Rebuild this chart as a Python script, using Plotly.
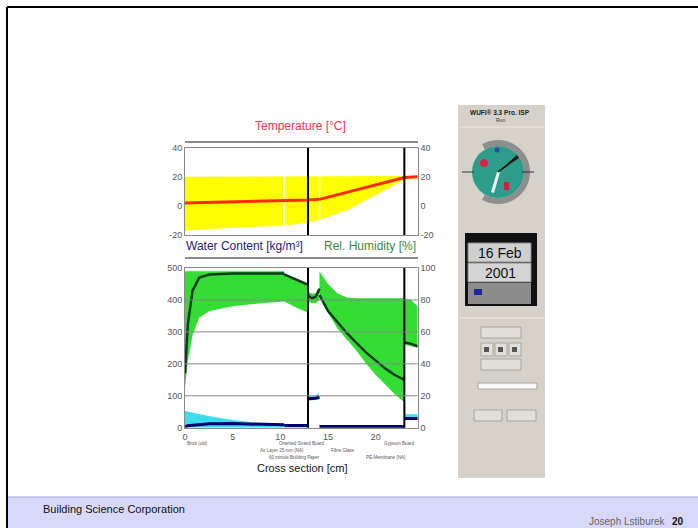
import numpy as np
import plotly.graph_objects as go

W, H = 698, 528
FONT = "Arial, Liberation Sans, sans-serif"

# wall build-up, positions in cm
x_max = 24.4
x_ticks = [0, 5, 10, 15, 20]
membranes = [12.9, 23.0]      # building paper, PE membrane
joints = [10.4, 14.1]         # seams between layers

# temperature [°C]
temp_x = [0, 5, 10.4, 12.9, 14.1, 17, 20, 23.0, 24.4]
temp_min = [-17, -15, -13.5, -11.5, -9.5, -3, 7.5, 18, 19]
temp_max = [20, 20, 20, 20, 20, 20, 20, 20.5, 20.5]
temp_now = [2.0, 2.6, 3.2, 4.0, 4.5, 9.5, 14.5, 19.5, 20]

# relative humidity [%] and water content [kg/m3], same x grid
rh_x = [0, 0.3, 0.8, 1.5, 2.6, 5, 8, 10.4,
        10.4, 11.6, 12.9,
        12.9, 13.3, 13.7, 14.1,
        14.1, 15, 16, 17, 18, 19, 20, 21, 22, 23.0,
        23.0, 23.7, 24.4]
rh_max = [98, 98, 98, 98, 98, 98, 98, 98,
          96.5, 93.5, 90,
          85, 84, 84, 88,
          98, 90, 84, 81.5, 81, 81, 81, 81, 81, 81,
          81, 80, 76]
rh_min = [25, 42, 58, 69, 73, 76, 78, 79,
          79, 75.5, 72,
          79, 78, 78, 80,
          84, 72, 62, 55, 48, 40, 33, 27, 21, 16,
          52, 51, 50]
rh_now = [34, 65, 86, 94, 96, 96.5, 96.5, 96.5,
          96, 93, 89.5,
          83, 81, 82, 87,
          83, 73, 66, 59, 53, 47, 42, 37, 33, 30,
          53.5, 52.5, 51]
wc_max = [52, 50, 47, 43, 36, 24, 14, 9,
          6, 6, 6,
          100, 98, 100, 112,
          5, 5, 5, 5, 5, 5, 5, 5, 5, 5,
          42, 42, 42]
wc_min = [0, 0, 0, 0, 0, 0, 0, 0,
          0, 0, 0,
          84, 85, 86, 88,
          0, 0, 0, 0, 0, 0, 0, 0, 0, 0,
          24, 24, 24]
wc_now = [3, 6, 8, 10, 12, 13, 11, 9,
          7, 7, 7,
          91, 91, 92, 96,
          4, 4, 4, 4, 4, 4, 4, 4, 4, 4,
          29, 29, 29]

# boundary conditions (exterior, interior)
bc_temp = [2.2, 20.5]
bc_rh = [37, 49]
bc_x = [-3.6, 27.3]

# monitor markers on the layer bars
temp_mon = [9.95, 12.3, 13.5, 22.4, 23.8]
wc_mon = [-1.2, 11.0, 13.3, 14.1, 22.6, 25.1]
wc_mon_sym = ["triangle-left", "triangle-right", "square", "square", "triangle-left", "triangle-right"]


def X(p):
    return p / W


def Y(p):
    return 1 - p / H


def split_layers(xs, ys):
    # break the line where a new layer starts (repeated x)
    ox, oy = [xs[0]], [ys[0]]
    for i in range(1, len(xs)):
        if xs[i] == xs[i - 1]:
            ox.append(None)
            oy.append(None)
        ox.append(xs[i])
        oy.append(ys[i])
    return ox, oy


shapes = []
annotations = []


def box(x0, y0, x1, y1, fill, line=None, lw=1):
    shapes.append(dict(type="rect", xref="paper", yref="paper",
                       x0=X(x0), x1=X(x1), y0=Y(y1), y1=Y(y0),
                       fillcolor=fill, layer="above",
                       line=dict(color=line if line else fill, width=lw if line else 0)))


def seg(x0, y0, x1, y1, color, lw=1):
    shapes.append(dict(type="line", xref="paper", yref="paper",
                       x0=X(x0), x1=X(x1), y0=Y(y0), y1=Y(y1), layer="above",
                       line=dict(color=color, width=lw)))


def poly(pts, fill):
    d = "M " + " L ".join(f"{X(a):.5f},{Y(b):.5f}" for a, b in pts) + " Z"
    shapes.append(dict(type="path", xref="paper", yref="paper", path=d,
                       fillcolor=fill, line=dict(width=0), layer="above"))


def circle(cx, cy, r, fill):
    shapes.append(dict(type="circle", xref="paper", yref="paper",
                       x0=X(cx - r), x1=X(cx + r), y0=Y(cy + r), y1=Y(cy - r),
                       fillcolor=fill, line=dict(width=0), layer="above"))


def text(x, y, s, size, color="#222", anchor="center"):
    annotations.append(dict(x=X(x), y=Y(y), xref="paper", yref="paper", text=s,
                            showarrow=False, xanchor=anchor, yanchor="middle", borderpad=0,
                            font=dict(size=size, color=color, family=FONT)))


fig = go.Figure()
hid = dict(showlegend=False, hoverinfo="skip")

# ---- temperature panel
fig.add_trace(go.Scatter(x=temp_x, y=temp_max, mode="lines", line=dict(width=0), xaxis="x", yaxis="y", **hid))
fig.add_trace(go.Scatter(x=temp_x, y=temp_min, mode="lines", line=dict(width=0), fill="tonexty",
                         fillcolor="#ffff00", xaxis="x", yaxis="y", **hid))
for j in joints:
    fig.add_trace(go.Scatter(x=[j, j], y=[-20, 40], mode="lines", line=dict(color="white", width=1.5),
                             xaxis="x", yaxis="y", **hid))
fig.add_trace(go.Scatter(x=temp_x, y=temp_now, mode="lines", line=dict(color="#ff2a00", width=3),
                         xaxis="x", yaxis="y", **hid))
fig.add_trace(go.Scatter(x=[bc_x[0]], y=[bc_temp[0]], mode="markers", cliponaxis=False,
                         marker=dict(symbol="triangle-right", size=9, color="#ff2020"),
                         xaxis="x", yaxis="y", **hid))
fig.add_trace(go.Scatter(x=[bc_x[1]], y=[bc_temp[1]], mode="markers", cliponaxis=False,
                         marker=dict(symbol="triangle-left", size=9, color="#ff2020"),
                         xaxis="x", yaxis="y2", **hid))
fig.add_trace(go.Scatter(x=[m + 0.45 for m in temp_mon], y=[47.4] * len(temp_mon), mode="markers",
                         cliponaxis=False,
                         marker=dict(symbol="square", size=7, color="#ffe000", line=dict(color="#f08000", width=1)),
                         xaxis="x", yaxis="y", **hid))
fig.add_trace(go.Scatter(x=temp_mon, y=[47.4] * len(temp_mon), mode="markers", cliponaxis=False,
                         marker=dict(symbol="triangle-left", size=8, color="#ffe000", line=dict(color="#f08000", width=1)),
                         xaxis="x", yaxis="y", **hid))

# ---- moisture panel
fig.add_trace(go.Scatter(x=rh_x, y=rh_max, mode="lines", line=dict(width=0), xaxis="x2", yaxis="y4", **hid))
fig.add_trace(go.Scatter(x=rh_x, y=rh_min, mode="lines", line=dict(width=0), fill="tonexty",
                         fillcolor="#33dd33", xaxis="x2", yaxis="y4", **hid))
fig.add_trace(go.Scatter(x=rh_x, y=wc_max, mode="lines", line=dict(width=0), xaxis="x2", yaxis="y3", **hid))
fig.add_trace(go.Scatter(x=rh_x, y=wc_min, mode="lines", line=dict(width=0), fill="tonexty",
                         fillcolor="#3fdcf0", xaxis="x2", yaxis="y3", **hid))
for j in joints:
    fig.add_trace(go.Scatter(x=[j, j], y=[0, 500], mode="lines", line=dict(color="white", width=1.5),
                             xaxis="x2", yaxis="y3", **hid))
lx, ly = split_layers(rh_x, rh_now)
fig.add_trace(go.Scatter(x=lx, y=ly, mode="lines", line=dict(color="#0b3a1c", width=2.5),
                         xaxis="x2", yaxis="y4", **hid))
lx, ly = split_layers(rh_x, wc_now)
fig.add_trace(go.Scatter(x=lx, y=ly, mode="lines", line=dict(color="#000070", width=3),
                         xaxis="x2", yaxis="y3", **hid))
fig.add_trace(go.Scatter(x=[bc_x[0]], y=[bc_rh[0]], mode="markers", cliponaxis=False,
                         marker=dict(symbol="triangle-right", size=9, color="#137a13"),
                         xaxis="x2", yaxis="y4", **hid))
fig.add_trace(go.Scatter(x=[bc_x[1]], y=[bc_rh[1]], mode="markers", cliponaxis=False,
                         marker=dict(symbol="triangle-left", size=9, color="#137a13"),
                         xaxis="x2", yaxis="y4", **hid))
fig.add_trace(go.Scatter(x=wc_mon, y=[106.3] * len(wc_mon), mode="markers", cliponaxis=False,
                         marker=dict(symbol=wc_mon_sym, size=9, color="#40d8f0", line=dict(color="#1890c0", width=1)),
                         xaxis="x2", yaxis="y4", **hid))

# layer boundaries (membranes) and gridlines
for m in membranes:
    shapes.append(dict(type="line", xref="x", yref="y domain", x0=m, x1=m, y0=0, y1=1,
                       line=dict(color="black", width=2), layer="above"))
    shapes.append(dict(type="line", xref="x2", yref="y3 domain", x0=m, x1=m, y0=0, y1=1,
                       line=dict(color="black", width=2), layer="above"))
for g in [100, 200, 300, 400]:
    shapes.append(dict(type="line", xref="x2 domain", yref="y3", x0=0, x1=1, y0=g, y1=g,
                       line=dict(color="#8a8a8a", width=1), layer="above"))

# layer bars above the panels
seg(185, 142, 418, 142, "#8a8a8a", 2)
seg(185, 258, 418, 258, "#8a8a8a", 2)

# slide frame and footer
seg(7, 7, 698, 7, "black", 2)
seg(7, 7, 7, 528, "black", 2)
box(8, 497, 698, 528, "#d8d8f8")
seg(8, 497, 698, 497, "#a0a0d4", 1)

# ---- WUFI control panel on the right
box(458, 105, 545, 478, "#d6d2ca")
seg(459, 127, 545, 127, "#ece9e3", 1)
seg(459, 318, 545, 318, "#ece9e3", 1)
text(500, 112, "<b>WUFI® 3.3 Pro. ISP</b>", 6.5, "#222")
text(500, 120, "Run", 5, "#333")

cx, cy = 498, 172
a = np.radians(np.linspace(-120, 120, 40))
ring = [(cx + 32 * np.cos(t), cy - 32 * np.sin(t)) for t in a] + \
       [(cx + 26 * np.cos(t), cy - 26 * np.sin(t)) for t in a[::-1]]
poly(ring, "#8e8e8e")
circle(cx, cy, 26, "#2e9c8a")
seg(462, 172, 474, 172, "#333", 1)
seg(522, 172, 534, 172, "#333", 1)
circle(484, 163, 4, "#e0204a")
circle(497, 150, 2.5, "#3048a8")
box(504, 182, 509, 190, "#d02040")
poly([(cx, cy), (517, 155), (519, 158)], "#111")
poly([(cx - 1, cy), (491, 192), (494, 193), (cx + 2, cy)], "#f0f0f0")
seg(cx, cy, 510, 163, "#111", 1.5)

# date box
box(465, 233, 537, 306, "#111")
box(468, 243, 531, 262, "#cfcfcf", "#8a8a8a")
box(468, 263, 531, 282, "#d4d4d4", "#8a8a8a")
box(468, 283, 531, 304, "#8c8c8c")
box(474, 289, 482, 295, "#1a2a9a")
text(500, 253, "16 Feb", 14, "#111")
text(500, 273, "2001", 14, "#111")

# buttons and slider
box(481, 327, 521, 338, "#e2dfda", "#a8a49c")
for bx in [481, 495, 509]:
    box(bx, 343, bx + 12, 356, "#e2dfda", "#a8a49c")
    box(bx + 3, 347, bx + 8, 352, "#555")
box(481, 359, 521, 370, "#e2dfda", "#a8a49c")
box(478, 383, 537, 389, "#fafafa", "#a8a49c")
box(474, 410, 502, 421, "#e2dfda", "#a8a49c")
box(507, 410, 536, 421, "#e2dfda", "#a8a49c")

# ---- titles and labels
text(300, 126, "Temperature [°C]", 12, "#f2334f")
text(185, 246, "Water Content [kg/m³]", 12, "#22227a", "left")
text(417, 246, "Rel. Humidity [%]", 12, "#3a8a3a", "right")
text(302, 468, "Cross section [cm]", 11, "#111")
text(186, 443, "Brick (old)", 4.5, "#555", "left")
text(302, 443, "Oriented Strand Board", 4.5, "#555")
text(399, 443, "Gypsum Board", 4.5, "#555")
text(282, 450, "Air Layer 25 mm (NA)", 4.5, "#555")
text(343, 450, "Fibre Glass", 4.5, "#555")
text(294, 457, "60 minute Building Paper", 4.5, "#555")
text(386, 457, "PE-Membrane (NA)", 4.5, "#555")

text(42, 509, "Building Science Corporation", 11, "#111", "left")
text(667, 521, "Joseph Lstiburek", 10, "#666", "right")
text(671, 521, "<b>20</b>", 10, "#111", "left")

ax = dict(showline=True, linecolor="#8a8a8a", linewidth=1, showgrid=False, zeroline=False,
          ticks="", tickfont=dict(size=9, color="#555", family=FONT), fixedrange=True)
xdom = [X(185), X(417.7)]

fig.update_layout(
    width=W, height=H, autosize=False,
    margin=dict(l=0, r=0, t=0, b=0, autoexpand=False),
    paper_bgcolor="white", plot_bgcolor="white",
    showlegend=False, dragmode=False,
    font=dict(family=FONT),
    xaxis=dict(ax, domain=xdom, range=[0, x_max], anchor="y", showticklabels=False, mirror=True),
    yaxis=dict(ax, domain=[Y(235), Y(147.7)], range=[-20, 40], anchor="x", mirror=True,
               tickvals=[-20, 0, 20, 40], ticktext=["-20", "0", "20", "40"]),
    yaxis2=dict(ax, overlaying="y", side="right", range=[-20, 40], anchor="x",
                tickvals=[-20, 0, 20, 40], ticktext=["-20", "0", "20", "40"]),
    xaxis2=dict(ax, domain=xdom, range=[0, x_max], anchor="y3", mirror=True,
                tickvals=x_ticks),
    yaxis3=dict(ax, domain=[Y(427.7), Y(268)], range=[0, 500], anchor="x2", mirror=True,
                tickvals=[0, 100, 200, 300, 400, 500]),
    yaxis4=dict(ax, overlaying="y3", side="right", range=[0, 100], anchor="x2",
                tickvals=[0, 20, 40, 60, 80, 100]),
    shapes=shapes,
    annotations=annotations,
)

fig.write_html("out.html", config={"displayModeBar": False},
               post_script="document.body.style.margin='0';document.body.style.overflow='hidden';")
